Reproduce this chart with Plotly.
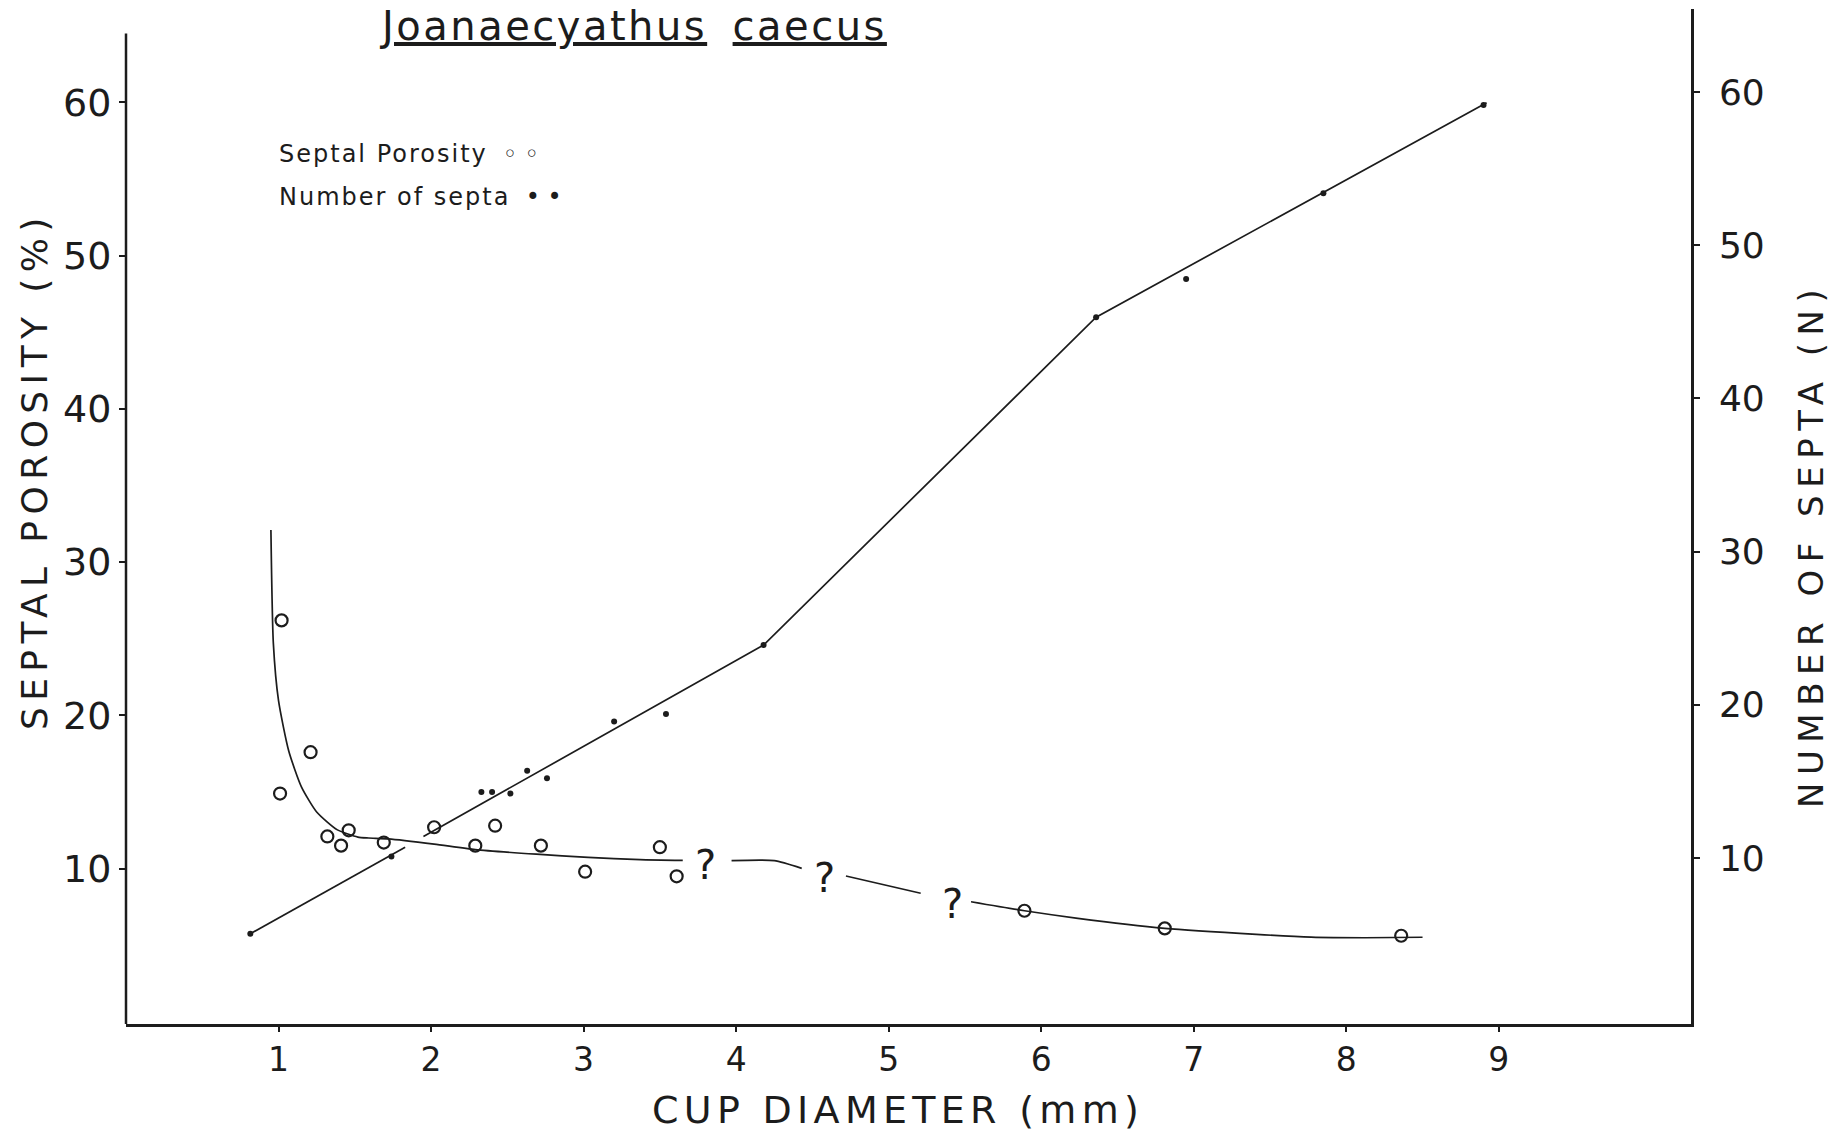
import plotly.graph_objects as go

# ---- data ----
# Number of septa (filled dots, right axis)
septa_x = [0.815, 1.74, 2.33, 2.40, 2.52, 2.63, 2.76, 3.20, 3.54, 4.18, 6.36, 6.95, 7.85, 8.90]
septa_n = [5.05, 10.1, 14.3, 14.3, 14.2, 15.7, 15.2, 18.9, 19.4, 23.9, 45.3, 47.8, 53.4, 59.15]
# hand-drawn line through septa (gap where it crosses the porosity curve)
septa_fit_x = [0.815, 1.83, None, 1.95, 4.18, 6.36, 8.92]
septa_fit_n = [5.05, 10.7, None, 11.4, 23.9, 45.3, 59.3]

# Septal porosity (open circles, left axis)
por_x = [1.01, 1.02, 1.21, 1.32, 1.41, 1.46, 1.69, 2.02, 2.29, 2.42, 2.72, 3.01, 3.50, 3.61, 5.89, 6.81, 8.36]
por_y = [14.9, 26.2, 17.6, 12.1, 11.5, 12.5, 11.7, 12.7, 11.5, 12.8, 11.5, 9.8, 11.4, 9.5, 7.25, 6.1, 5.62]
# hand-drawn porosity curve (broken by question marks)
curve_x = [0.95, 0.966, 1.0, 1.067, 1.15, 1.25, 1.386, 1.52, 1.59, 1.72, 2.02, 2.29, 2.69, 3.03, 3.37, 3.65,
           None, 3.97, 4.25, 4.43,
           None, 4.72, 5.21,
           None, 5.54, 5.89, 6.24, 6.81, 7.41, 7.77, 8.12, 8.50]
curve_y = [32.1, 24.7, 20.96, 17.68, 15.34, 13.7, 12.53, 12.06, 12.0, 11.94, 11.6, 11.24, 10.94, 10.73, 10.59, 10.54,
           None, 10.52, 10.52, 10.02,
           None, 9.52, 8.39,
           None, 7.84, 7.25, 6.75, 6.10, 5.71, 5.53, 5.49, 5.52]
# question marks in the curve
q_x = [3.80, 4.58, 5.42]
q_y = [10.0, 9.13, 7.4]

x_ticks = [1, 2, 3, 4, 5, 6, 7, 8, 9]
y_ticks = [10, 20, 30, 40, 50, 60]

INK = "#1c1c1c"
FONT = "DejaVu Sans"


def spaced(text, px):
    return '<span style="letter-spacing:%spx">%s</span>' % (px, text)


fig = go.Figure()

fig.add_trace(go.Scatter(
    x=septa_fit_x, y=septa_fit_n, yaxis="y2", mode="lines",
    line=dict(color=INK, width=1.7), connectgaps=False, showlegend=False, hoverinfo="skip"))
fig.add_trace(go.Scatter(
    x=septa_x, y=septa_n, yaxis="y2", mode="markers", name="Number of septa",
    marker=dict(color=INK, size=6, symbol="circle"), showlegend=False))

fig.add_trace(go.Scatter(
    x=curve_x, y=curve_y, mode="lines", line=dict(color=INK, width=1.7, shape="spline", smoothing=0.6),
    connectgaps=False, showlegend=False, hoverinfo="skip"))
fig.add_trace(go.Scatter(
    x=por_x, y=por_y, mode="markers", name="Septal Porosity",
    marker=dict(color="rgba(0,0,0,0)", size=12, symbol="circle", line=dict(color=INK, width=2.2)),
    showlegend=False))
fig.add_trace(go.Scatter(
    x=q_x, y=q_y, mode="text", text=["?"] * len(q_x),
    textfont=dict(family=FONT, size=40, color=INK), showlegend=False, hoverinfo="skip"))

fig.update_layout(
    width=1848, height=1136,
    margin=dict(l=126, r=157, t=9, b=112),
    paper_bgcolor="white", plot_bgcolor="white",
    font=dict(family=FONT, color=INK),
    xaxis=dict(range=[0, 10.26], tickvals=x_ticks, ticktext=[str(v) for v in x_ticks],
               showgrid=False, zeroline=False, showline=True, linecolor=INK, linewidth=2.5,
               ticks="outside", ticklen=5, tickwidth=1.5, tickcolor=INK,
               tickfont=dict(family=FONT, size=33, color=INK)),
    yaxis=dict(range=[-0.14, 66.1], tickvals=y_ticks, showgrid=False, zeroline=False, showline=False,
               ticks="outside", ticklen=6, tickwidth=1.5, tickcolor=INK,
               tickfont=dict(family=FONT, size=38, color=INK)),
    yaxis2=dict(range=[-0.84, 65.42], overlaying="y", side="right", tickvals=y_ticks, showgrid=False,
                zeroline=False, showline=True, linecolor=INK, linewidth=2.5,
                ticks="outside", ticklen=6, tickwidth=1.5, tickcolor=INK, ticklabelstandoff=12,
                tickfont=dict(family=FONT, size=36, color=INK)),
)

# left axis line (shorter than the plot height, as in the drawing)
fig.add_shape(type="line", xref="paper", yref="y", x0=0, x1=0, y0=-0.14, y1=64.5,
              line=dict(color=INK, width=2.5))

ann = []
ann.append(dict(text="<u>" + spaced("Joanaecyathus", 2.5) + "</u>  <u>" + spaced("caecus", 2.5) + "</u>",
                xref="paper", yref="paper", x=0.324, y=0.983, xanchor="center", yanchor="middle",
                showarrow=False, font=dict(family=FONT, size=40, color=INK)))
ann.append(dict(text=spaced("Septal Porosity", 2) + "  ◦ ◦", xref="paper", yref="paper", x=0.0965, y=0.857,
                xanchor="left", yanchor="middle", showarrow=False, font=dict(family=FONT, size=24, color=INK)))
ann.append(dict(text=spaced("Number of septa", 2) + "  • •", xref="paper", yref="paper", x=0.0965, y=0.815,
                xanchor="left", yanchor="middle", showarrow=False, font=dict(family=FONT, size=24, color=INK)))
ann.append(dict(text=spaced("SEPTAL POROSITY (%)", 6.4), xref="paper", yref="paper", x=-0.058, y=0.545,
                xanchor="center", yanchor="middle",
                textangle=-90, showarrow=False, font=dict(family=FONT, size=36, color=INK)))
ann.append(dict(text=spaced("NUMBER OF SEPTA (N)", 7.5), xref="paper", yref="paper", x=1.0767, y=0.472,
                xanchor="center", yanchor="middle",
                textangle=-90, showarrow=False, font=dict(family=FONT, size=34, color=INK)))
ann.append(dict(text=spaced("CUP DIAMETER (mm)", 5.3), xref="paper", yref="paper", x=0.493, y=-0.0847,
                xanchor="center", yanchor="middle",
                showarrow=False, font=dict(family=FONT, size=38, color=INK)))
fig.update_layout(annotations=ann)

fig.write_html("out.html")
